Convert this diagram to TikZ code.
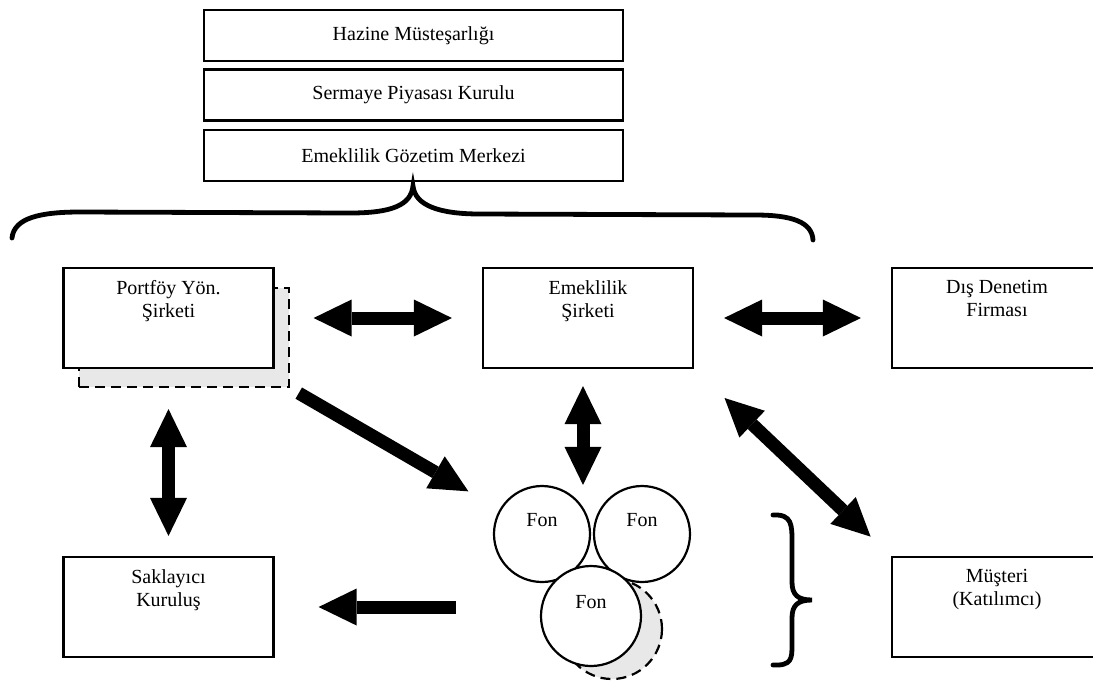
\documentclass[tikz,border=0pt]{standalone}
\usepackage{fontspec}
\setmainfont{Liberation Serif}
\usetikzlibrary{positioning, arrows.meta}

\tikzset{
  box/.style={draw, line width=1.1pt, fill=white, minimum width=105pt,
    minimum height=50pt, inner sep=0pt},
  topbox/.style={draw, line width=1.1pt, minimum width=209.5pt,
    minimum height=25.5pt},
  boxtext/.style={anchor=north, align=center, inner sep=6.5pt},
  fon/.style={draw, circle, line width=1.1pt, fill=white, minimum size=48pt,
    inner sep=0pt, text depth=14pt},
  shadow/.style={draw, dashed, dash pattern=on 5pt off 3pt, line width=1.1pt,
    fill=gray!18},
  fat/.style={line width=6.5pt,
    -{Triangle[length=19pt, width=18.5pt, line width=0pt]}},
  fatboth/.style={line width=6.5pt,
    {Triangle[length=19pt, width=18.5pt, line width=0pt]}-{Triangle[length=19pt, width=18.5pt, line width=0pt]}},
  brace/.style={line width=2.4pt, line cap=round}
}

\begin{document}
\begin{tikzpicture}[x=0.5pt, y=-0.5pt, font=\fontsize{10}{11.5}\selectfont]
  \useasboundingbox (0,0) rectangle (1093,682);

  % supervisory bodies
  \node[topbox] (hazine) at (413.5,35.5) {Hazine Müsteşarlığı};
  \node[topbox] (spk) at (413.5,95) {Sermaye Piyasası Kurulu};
  \node[topbox] (egm) at (413.5,155.5) {Emeklilik Gözetim Merkezi};

  \draw[brace] (12,238) .. controls (14,218) and (40,212) .. (80,212)
    -- (350,213) .. controls (392,213) and (411,205) .. (413,186)
    .. controls (415,205) and (438,214) .. (480,214)
    -- (755,215) .. controls (792,215) and (812,222) .. (813,240);

  % companies
  \node[shadow, minimum width=105pt, minimum height=49.5pt] (portshadow) at (184,337.5) {};
  \node[box, label={[boxtext]north:Portföy Yön.\\Şirketi}] (port) at (168.5,318) {};
  \node[box, label={[boxtext]north:Emeklilik\\Şirketi}] (emek) at (588,318) {};
  \node[box, label={[boxtext]north:Dış Denetim\\Firması}] (dis) at (997,318) {};
  \node[box, label={[boxtext]north:Saklayıcı\\Kuruluş}] (sak) at (168.5,607) {};
  \node[box, label={[boxtext]north:Müşteri\\(Katılımcı)}] (mus) at (997,607) {};

  % funds
  \node[fon] (fon1) at (542,534) {Fon};
  \node[fon] (fon2) at (642,534) {Fon};
  \node[shadow, circle, minimum size=50pt] (fonshadow) at (612,629) {};
  \node[fon, minimum size=50pt] (fon3) at (591,616) {Fon};

  \draw[brace] (773,515) .. controls (792,514) and (792,525) .. (792,542)
    -- (792,582) .. controls (792,595) and (798,600) .. (812,600)
    .. controls (798,600) and (792,605) .. (792,618)
    -- (792,645) .. controls (792,658) and (792,666) .. (773,665);

  % relations
  \draw[fatboth, shorten <=19.5pt, shorten >=15pt] (port.east) -- (emek.west);
  \draw[fatboth, shorten <=15pt, shorten >=15pt] (emek.east) -- (dis.west);
  \draw[fatboth, shorten <=8.5pt] ([xshift=-2.5pt]emek.south) -- ([xshift=-2.5pt]emek.south |- fon1.north);
  \draw[fatboth, shorten <=10.5pt, shorten >=10pt] (portshadow.south -| port) -- (sak.north);
  \draw[fatboth, shorten <=21pt, shorten >=14pt] (emek.south east) -- (mus.north west);
  \draw[fat, shorten <=5pt, shorten >=18pt] (portshadow.south east) -- (fon1);
  \draw[fat, shorten <=18.5pt, shorten >=22pt] (sak.east -| fon1.west) -- (sak.east);
\end{tikzpicture}
\end{document}
